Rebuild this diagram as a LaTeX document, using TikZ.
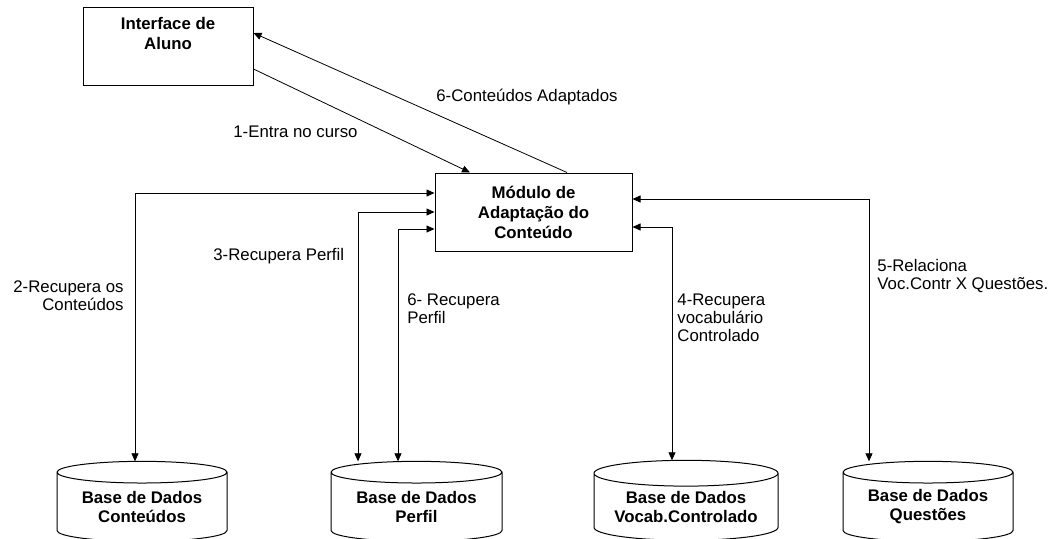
\documentclass[tikz,border=0pt]{standalone}
\usepackage{fontspec}
\setmainfont{Liberation Sans}
\usetikzlibrary{shapes.geometric,arrows.meta}

\tikzset{
  caixa/.style={draw, line width=1pt, inner sep=0pt, align=center,
    font=\bfseries\fontsize{16.8}{20}\selectfont},
  banco/.style={draw, line width=1pt, cylinder, shape border rotate=90,
    aspect=0.18, minimum height=80pt, inner sep=0pt, outer sep=0pt, align=center,
    font=\bfseries\fontsize{16.8}{19}\selectfont},
  rotulo/.style={inner sep=0pt, font=\fontsize{16.8}{18}\selectfont},
}

\begin{document}
\begin{tikzpicture}[x=1pt, y=-1pt, line width=0.8pt,
  >={Triangle[length=8pt,width=7pt]}]
\useasboundingbox (0,0) rectangle (1059,538);

\node[caixa, minimum width=170pt, text height=42pt, text depth=36pt] (aluno) at (168,46) {Interface de\\Aluno};
\node[caixa, minimum width=197pt, minimum height=78pt] (modulo) at (533.5,212) {Módulo de\\Adaptação do\\Conteúdo};

\foreach \nome/\x/\w/\txt in {cont/142/170/Conteúdos, perfil/416.5/171/Perfil,
    vocab/686/184/Vocab.Controlado, quest/928/170/Questões}
  \node[banco, minimum width=\w pt] (bd-\nome) at (\x,507) {Base de Dados\\\txt};

% aluno <-> modulo
\draw[->] ([yshift=-23pt]aluno.east) -- ([xshift=-63.5pt]modulo.north);
\draw[->] ([xshift=33.5pt]modulo.north) -- ([yshift=13pt]aluno.east);

% modulo <-> bases de dados
\draw[<->] ([yshift=19pt]modulo.west) -| ([xshift=-7pt]bd-cont.north);
\draw[<->] (modulo.west) -| ([xshift=-58.5pt]bd-perfil.north);
\draw[<->] ([yshift=-17pt]modulo.west) -| ([xshift=-18.5pt]bd-perfil.north);
\draw[<->] ([yshift=-15pt]modulo.east) -| ([xshift=-14pt]bd-vocab.north);
\draw[<->] ([yshift=13pt]modulo.east) -| ([xshift=-59pt]bd-quest.north);

\node[rotulo, anchor=west] (r-entra) at (233,132) {1-Entra no curso};
\node[rotulo, anchor=west] (r-adapt) at (436,97) {6-Conteúdos Adaptados};
\node[rotulo, anchor=east, align=right] (r-cont) at (124,295.5) {2-Recupera os\\Conteúdos};
\node[rotulo, anchor=west] (r-perfil) at (213,256) {3-Recupera Perfil};
\node[rotulo, anchor=west, align=left] (r-perfil2) at (407,309) {6- Recupera\\Perfil};
\node[rotulo, anchor=west, align=left] (r-vocab) at (677,318) {4-Recupera\\vocabulário\\Controlado};
\node[rotulo, anchor=west, align=left] (r-quest) at (877,276) {5-Relaciona\\Voc.Contr X Questões.};

\end{tikzpicture}
\end{document}
